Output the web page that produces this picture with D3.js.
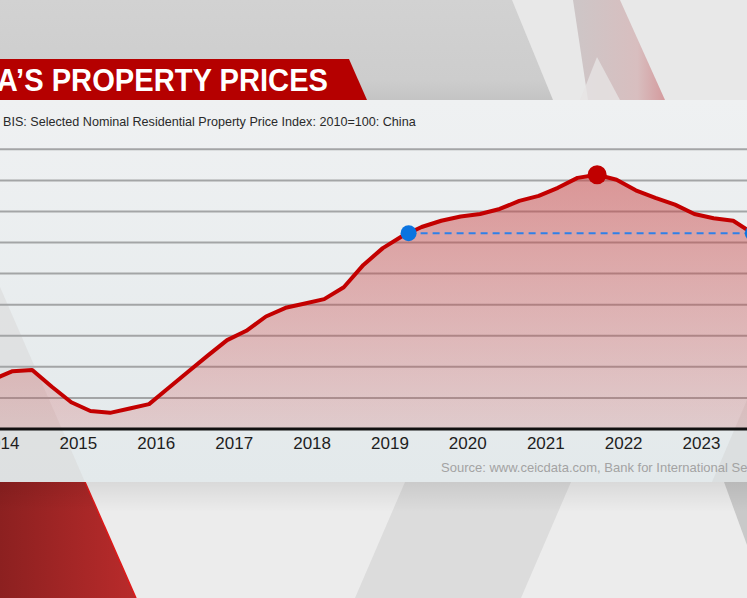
<!DOCTYPE html>
<html>
<head>
<meta charset="utf-8">
<script src="https://cdn.jsdelivr.net/npm/d3@7"></script>
<style>
  html, body { margin: 0; padding: 0; background: #ececec; overflow: hidden; }
  svg { display: block; font-family: "Liberation Sans", Arial, sans-serif; }
</style>
</head>
<body>
<div class="property-chart"></div>
<script>
// quarterly index readings (2010=100)
const quarters = [
    '2013-12', '2014-03', '2014-06', '2014-09', '2014-12',
    '2015-03', '2015-06', '2015-09', '2015-12',
    '2016-03', '2016-06', '2016-09', '2016-12',
    '2017-03', '2017-06', '2017-09', '2017-12',
    '2018-03', '2018-06', '2018-09', '2018-12',
    '2019-03', '2019-06', '2019-09', '2019-12',
    '2020-03', '2020-06', '2020-09', '2020-12',
    '2021-03', '2021-06', '2021-09', '2021-12',
    '2022-03', '2022-06', '2022-09', '2022-12',
    '2023-03', '2023-06', '2023-09'
];
const priceIndex = [
    108.0, 109.3, 109.5, 106.8, 104.3,
    102.9, 102.6, 103.3, 104.0,
    106.6, 109.2, 111.8, 114.3,
    115.8, 118.1, 119.5, 120.2,
    120.9, 122.8, 126.4, 129.1,
    131.0, 132.5, 133.5, 134.2,
    134.6, 135.4, 136.7, 137.5,
    138.8, 140.4, 140.9, 140.1,
    138.4, 137.2, 136.1, 134.6,
    133.9, 133.5, 131.5
];
const yearTicks = [2014, 2015, 2016, 2017, 2018, 2019, 2020, 2021, 2022, 2023];
const gridValues = [105, 110, 115, 120, 125, 130, 135, 140, 145];
const peakQuarter = '2021-09';
const sameLevelDate = '2019-04';

const titleText = 'CHINA\u2019S PROPERTY PRICES';
const subtitleText = 'BIS: Selected Nominal Residential Property Price Index: 2010=100: China';
const sourceText = 'Source: www.ceicdata.com, Bank for International Settlements';

const parseMonth = d3.timeParse('%Y-%m');
const series = quarters.map((q, i) => ({ date: parseMonth(q), value: priceIndex[i] }));

createChart();

function createChart() {
    const width = 747;
    const height = 598;
    const svg = d3.select('.property-chart')
        .append('svg')
        .attr('width', width)
        .attr('height', height);

    const defs = svg.append('defs');

    function linearGradient(id, x2, y2, stops) {
        const g = defs.append('linearGradient')
            .attr('id', id)
            .attr('x1', 0).attr('y1', 0)
            .attr('x2', x2).attr('y2', y2);
        stops.forEach(s => {
            g.append('stop')
                .attr('offset', s[0])
                .attr('stop-color', s[1])
                .attr('stop-opacity', s[2] === undefined ? 1 : s[2]);
        });
    }
    linearGradient('topBg', 0, 1, [[0, '#d2d2d2'], [0.8, '#cdcdcd'], [1, '#c4c4c4']]);
    linearGradient('pinkBand', 1, 0, [[0, '#cdc6c7'], [0.7, '#d8bebf'], [1, '#d49a9d']]);
    linearGradient('panelBg', 0, 1, [[0, '#eff1f2'], [1, '#e3e9eb']]);
    linearGradient('redBlock', 1, 0, [[0, '#8c2020'], [1, '#b92b2b']]);
    linearGradient('underShadow', 0, 1, [[0, '#000', 0.08], [1, '#000', 0]]);
    linearGradient('areaFill', 0, 1, [[0, '#c83c3c', 0.5], [1, '#c83c3c', 0.18]]);

    // ---- background graphics
    svg.append('rect')
        .attr('width', width).attr('height', 100)
        .attr('fill', 'url(#topBg)');
    svg.append('polygon')
        .attr('points', '512,0 747,0 747,100 553,100')
        .attr('fill', '#e8e8e8');
    svg.append('polygon')
        .attr('points', '573,0 620,0 665,100 588,100')
        .attr('fill', 'url(#pinkBand)');
    svg.append('polygon')
        .attr('points', '597,57 620,100 580,100')
        .attr('fill', '#e6e3e3')
        .attr('opacity', 0.8);

    svg.append('rect')
        .attr('y', 482).attr('width', width).attr('height', 116)
        .attr('fill', '#ececec');
    svg.append('polygon')
        .attr('points', '405,482 571,482 521,598 355,598')
        .attr('fill', '#dcdcdc');
    svg.append('polygon')
        .attr('points', '724,482 747,482 747,545')
        .attr('fill', '#c9c9c9');
    svg.append('polygon')
        .attr('points', '0,482 85,482 136,598 0,598')
        .attr('fill', 'url(#redBlock)');
    svg.append('line')
        .attr('x1', 85).attr('y1', 482).attr('x2', 136).attr('y2', 598)
        .attr('stroke', '#e01818').attr('stroke-width', 1.5);
    svg.append('rect')
        .attr('y', 482).attr('width', width).attr('height', 30)
        .attr('fill', 'url(#underShadow)');

    // ---- chart panel
    svg.append('rect')
        .attr('y', 100).attr('width', width).attr('height', 382)
        .attr('fill', 'url(#panelBg)');
    svg.append('polygon')
        .attr('points', '0,287 85,482 0,482')
        .attr('fill', '#d8d8d8')
        .attr('opacity', 0.55);
    svg.append('polygon')
        .attr('points', '747,400 747,482 712,482')
        .attr('fill', '#d0d0d0')
        .attr('opacity', 0.4);

    // title banner
    svg.append('polygon')
        .attr('points', '0,59 349,59 367,100 0,100')
        .attr('fill', '#b50000');
    svg.append('text')
        .text(titleText)
        .attr('transform', 'translate(328,91) scale(0.94,1)')
        .attr('text-anchor', 'end')
        .attr('font-size', '31px')
        .attr('font-weight', 'bold')
        .attr('fill', 'white');

    svg.append('text')
        .text(subtitleText)
        .attr('x', 3)
        .attr('y', 126)
        .attr('font-size', '12.6px')
        .attr('fill', '#2a2a2a');

    // scales
    const x = d3.scaleTime()
        .domain([new Date(2014, 0, 1), new Date(2023, 0, 1)])
        .range([0, 701]);
    const y = d3.scaleLinear()
        .domain([100, 145])
        .range([429, 149.3]);

    // gridlines
    svg.selectAll('.grid')
        .data(gridValues)
        .enter()
        .append('line')
        .attr('class', 'grid')
        .attr('x1', 0)
        .attr('x2', width)
        .attr('y1', d => y(d))
        .attr('y2', d => y(d))
        .attr('stroke', '#a3a5a6')
        .attr('stroke-width', 2);

    // shaded area under the line
    const area = d3.area()
        .x(d => x(d.date))
        .y0(y(100))
        .y1(d => y(d.value));
    svg.append('path')
        .datum(series)
        .attr('d', area)
        .attr('fill', 'url(#areaFill)');

    // x axis
    const xAxis = d3.axisBottom(x)
        .tickValues(yearTicks.map(yr => new Date(yr, 0, 1)))
        .tickFormat(d3.timeFormat('%Y'))
        .tickSize(0)
        .tickPadding(8);
    const axisG = svg.append('g')
        .attr('transform', `translate(0,${y(100)})`)
        .call(xAxis);
    axisG.select('.domain').remove();
    axisG.selectAll('text')
        .attr('font-size', '17px')
        .attr('font-family', '"Liberation Sans", Arial, sans-serif')
        .attr('fill', '#1e1e1e');
    svg.append('line')
        .attr('x1', 0).attr('x2', width)
        .attr('y1', y(100)).attr('y2', y(100))
        .attr('stroke', '#111')
        .attr('stroke-width', 3);

    // same-level dashed marker
    const lastPoint = series[series.length - 1];
    const levelStart = { date: parseMonth(sameLevelDate), value: lastPoint.value };
    svg.append('line')
        .attr('x1', x(levelStart.date))
        .attr('x2', x(lastPoint.date))
        .attr('y1', y(lastPoint.value))
        .attr('y2', y(lastPoint.value))
        .attr('stroke', '#2f80e8')
        .attr('stroke-width', 2)
        .attr('stroke-dasharray', '7,5');

    // price line
    const line = d3.line()
        .x(d => x(d.date))
        .y(d => y(d.value));
    svg.append('path')
        .datum(series)
        .attr('d', line)
        .attr('fill', 'none')
        .attr('stroke', '#c30000')
        .attr('stroke-width', 4)
        .attr('stroke-linejoin', 'round');

    // markers
    const peak = series.find(d => +d.date === +parseMonth(peakQuarter));
    svg.append('circle')
        .attr('cx', x(peak.date))
        .attr('cy', y(peak.value))
        .attr('r', 9.5)
        .attr('fill', '#c00000');
    svg.selectAll('.level-dot')
        .data([levelStart, lastPoint])
        .enter()
        .append('circle')
        .attr('class', 'level-dot')
        .attr('cx', d => x(d.date))
        .attr('cy', d => y(d.value))
        .attr('r', 8)
        .attr('fill', '#0b74e0');

    svg.append('text')
        .text(sourceText)
        .attr('x', 441)
        .attr('y', 472)
        .attr('font-size', '13px')
        .attr('fill', '#a3a3a3');
}
</script>
</body>
</html>
